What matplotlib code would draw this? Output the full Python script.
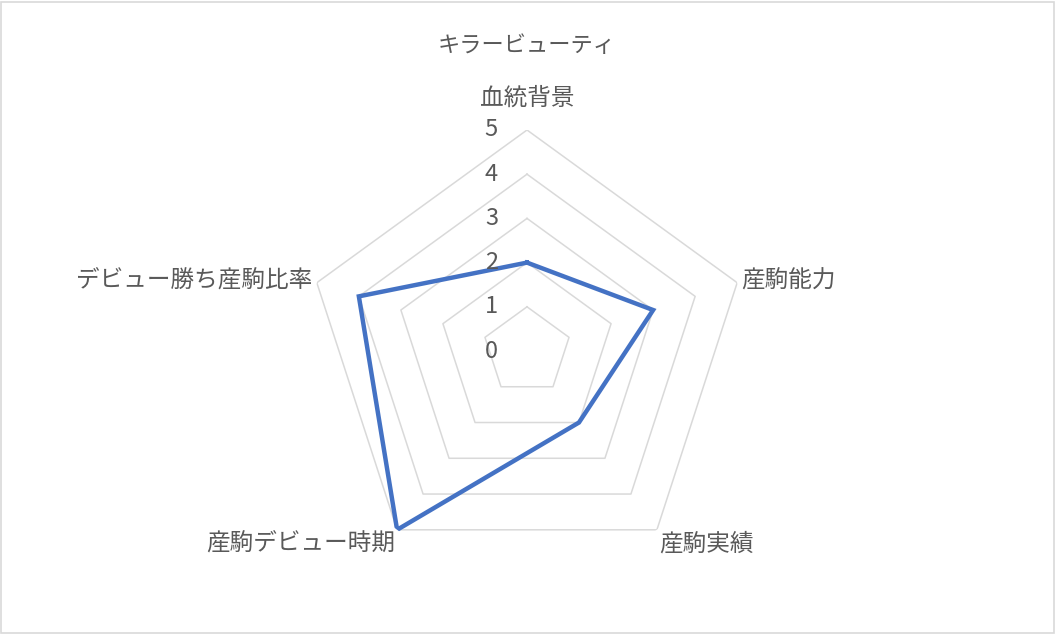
import numpy as np
import matplotlib
matplotlib.use("Agg")
from matplotlib import pyplot as plt
from matplotlib.patches import Rectangle
from matplotlib.transforms import offset_copy

plt.rcParams["font.family"] = ["Noto Sans CJK JP", "DejaVu Sans"]

# chart data
title = "キラービューティ"
categories = ["血統背景", "産駒能力", "産駒実績", "産駒デビュー時期", "デビュー勝ち産駒比率"]
values = [2, 3, 2, 5, 4]
rings = [1, 2, 3, 4, 5]
tick_labels = ["0", "1", "2", "3", "4", "5"]

n = len(categories)
theta = np.arange(n) * 2 * np.pi / n
theta_c = np.append(theta, theta[0])

fig = plt.figure(figsize=(10.56, 6.34), dpi=100)
fig.patches.append(Rectangle((0.001, 0.002), 0.997, 0.995, transform=fig.transFigure,
                             fill=False, edgecolor="#D9D9D9", linewidth=1.2))

# polar axes centred at (527, 351) px with 5 -> 221 px
cx, cy, rad = 527, 351, 221
ax = fig.add_axes([(cx - rad) / 1056, (634 - cy - rad) / 634, 2 * rad / 1056, 2 * rad / 634],
                  projection="polar")
ax.set_theta_zero_location("N")
ax.set_theta_direction(-1)
ax.set_ylim(0, 5)
ax.grid(False)
ax.spines["polar"].set_visible(False)
ax.set_xticks([])
ax.set_yticks([])
ax.patch.set_alpha(0)

for r in rings:
    ax.plot(theta_c, [r] * (n + 1), color="#D9D9D9", linewidth=1.1, zorder=1)

ax.plot(theta_c, values + values[:1], color="#4472C4", linewidth=3.2, zorder=3,
        solid_joinstyle="miter")

# radial value labels, left of the vertical axis
tr = offset_copy(ax.transData, fig=fig, x=-29, y=0, units="dots")
for i, lab in enumerate(tick_labels):
    ax.text(0, i, lab, transform=tr, ha="right", va="center", fontsize=17,
            color="#595959")

# category labels
lab_pos = [
    (5.72, "center", "center"),
    (5.1, "left", "center"),
    (5.08, "left", "top"),
    (5.08, "right", "top"),
    (5.1, "right", "center"),
]
for t, name, (r, ha, va) in zip(theta, categories, lab_pos):
    ax.text(t, r, name, ha=ha, va=va, fontsize=17, color="#595959")

fig.text(527 / 1056, 1 - 45 / 634, title, ha="center", va="center", fontsize=16,
         color="#595959")

fig.savefig("out.png", dpi=100)
